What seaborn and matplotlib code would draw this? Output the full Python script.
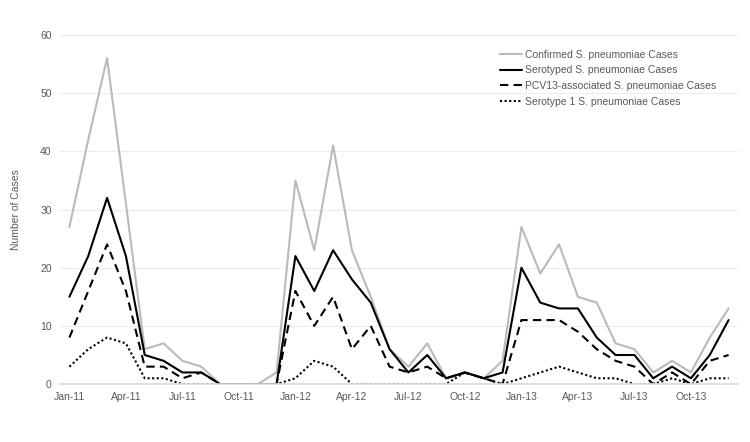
import matplotlib
matplotlib.use("Agg")
import matplotlib.pyplot as plt
import seaborn as sns
import pandas as pd

months = ["Jan-11","Feb-11","Mar-11","Apr-11","May-11","Jun-11","Jul-11","Aug-11","Sep-11","Oct-11","Nov-11","Dec-11",
          "Jan-12","Feb-12","Mar-12","Apr-12","May-12","Jun-12","Jul-12","Aug-12","Sep-12","Oct-12","Nov-12","Dec-12",
          "Jan-13","Feb-13","Mar-13","Apr-13","May-13","Jun-13","Jul-13","Aug-13","Sep-13","Oct-13","Nov-13","Dec-13"]

confirmed = [27, 42, 56, 31, 6, 7, 4, 3, 0, 0, 0, 2,
             35, 23, 41, 23, 15, 6, 3, 7, 1, 2, 1, 4,
             27, 19, 24, 15, 14, 7, 6, 2, 4, 2, 8, 13]
serotyped = [15, 22, 32, 22, 5, 4, 2, 2, 0, 0, 0, 0,
             22, 16, 23, 18, 14, 6, 2, 5, 1, 2, 1, 2,
             20, 14, 13, 13, 8, 5, 5, 1, 3, 1, 5, 11]
pcv13 = [8, 16, 24, 16, 3, 3, 1, 2, 0, 0, 0, 0,
         16, 10, 15, 6, 10, 3, 2, 3, 1, 2, 1, 0,
         11, 11, 11, 9, 6, 4, 3, 0, 2, 0, 4, 5]
serotype1 = [3, 6, 8, 7, 1, 1, 0, 0, 0, 0, 0, 0,
             1, 4, 3, 0, 0, 0, 0, 0, 0, 2, 1, 0,
             1, 2, 3, 2, 1, 1, 0, 0, 1, 0, 1, 1]

series_names = ["Confirmed S. pneumoniae Cases", "Serotyped S. pneumoniae Cases",
                "PCV13-associated S. pneumoniae Cases", "Serotype 1 S. pneumoniae Cases"]
tick_labels = ["Jan-11","Apr-11","Jul-11","Oct-11","Jan-12","Apr-12","Jul-12","Oct-12",
               "Jan-13","Apr-13","Jul-13","Oct-13"]

rows = []
for name, vals in zip(series_names, [confirmed, serotyped, pcv13, serotype1]):
    for i, v in enumerate(vals):
        rows.append({"idx": i, "value": v, "series": name})
df = pd.DataFrame(rows)

sns.set_theme(style="white")
plt.rcParams["font.family"] = ["Liberation Sans", "DejaVu Sans"]

fig = plt.figure(figsize=(7.5, 4.42), dpi=100)
ax = fig.add_axes([0.08, 0.131, 0.904, 0.79])

palette = {series_names[0]: "#BABABA", series_names[1]: "black",
           series_names[2]: "black", series_names[3]: "black"}
dashes = {series_names[0]: "", series_names[1]: "",
          series_names[2]: (4, 2.5), series_names[3]: (1, 1.2)}

sns.lineplot(data=df, x="idx", y="value", hue="series", style="series",
             palette=palette, dashes=dashes, linewidth=1.5, ax=ax,
             hue_order=series_names, style_order=series_names)

ax.set_xlim(-0.5, 35.5)
ax.set_ylim(0, 60)
ax.set_yticks(range(0, 61, 10))
ax.set_xticks([months.index(t) for t in tick_labels])
ax.set_xticklabels(tick_labels)
ax.tick_params(axis="both", labelsize=7.5, colors="#595959", length=0, pad=6)
ax.grid(axis="y", color="#EDEDED", linewidth=0.8)
ax.set_axisbelow(True)
for s in ["top", "right", "left"]:
    ax.spines[s].set_visible(False)
ax.spines["bottom"].set_color("#D9D9D9")
ax.set_xlabel("")
ax.set_ylabel("Number of Cases", fontsize=7.5, color="#595959", labelpad=14)

leg = ax.legend(loc="upper left", bbox_to_anchor=(0.635, 0.985), frameon=False,
                fontsize=7.5, handlelength=2.1, handletextpad=0.3, labelspacing=0.55)
for t in leg.get_texts():
    t.set_color("#595959")

fig.savefig("out.png", dpi=100)
